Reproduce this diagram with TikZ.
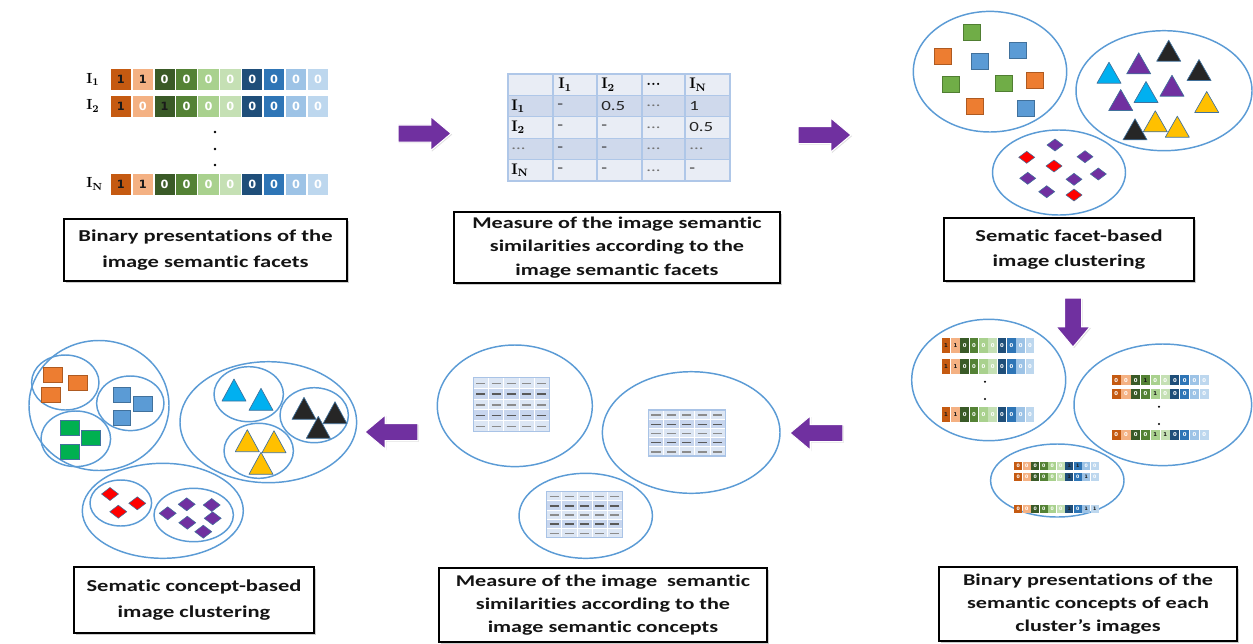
\documentclass[tikz,border=0pt]{standalone}
\usepackage{fontspec}
\usetikzlibrary{shapes.arrows,shadows}
\newfontfamily\boxfont[FakeStretch=1.35, Ligatures=NoCommon]{Carlito}
\newfontfamily\digitfont{DejaVu Sans}

% facet colours of the binary strips
\definecolor{c1}{HTML}{C55A11}
\definecolor{c2}{HTML}{F4B183}
\definecolor{c3}{HTML}{3A5A27}
\definecolor{c4}{HTML}{548235}
\definecolor{c5}{HTML}{A9D18E}
\definecolor{c6}{HTML}{C5E0B4}
\definecolor{c7}{HTML}{1F4E79}
\definecolor{c8}{HTML}{2E75B6}
\definecolor{c9}{HTML}{9DC3E6}
\definecolor{c10}{HTML}{BDD7EE}
\definecolor{bitone}{HTML}{1A1A1A}
% clusters and shapes
\definecolor{clusline}{HTML}{5B9BD5}
\definecolor{sqorange}{HTML}{ED7D31}
\definecolor{sqorangeD}{HTML}{AE5A21}
\definecolor{sqblue}{HTML}{5B9BD5}
\definecolor{sqblueD}{HTML}{41719C}
\definecolor{sqgreen}{HTML}{70AD47}
\definecolor{sqgreenD}{HTML}{507E32}
\definecolor{sqgreenB}{HTML}{00B050}
\definecolor{tcyan}{HTML}{00B0F0}
\definecolor{tpurple}{HTML}{7030A0}
\definecolor{tblack}{HTML}{262626}
\definecolor{tyellow}{HTML}{FFC000}
\definecolor{dred}{HTML}{FF0000}
\definecolor{shapeline}{HTML}{41719C}
% tables
\definecolor{tlight}{HTML}{E9EDF5}
\definecolor{tdark}{HTML}{CFD9EC}
\definecolor{tline}{HTML}{AFC7E8}
\definecolor{mtlight}{HTML}{DCE6F4}
\definecolor{mtdark}{HTML}{C8D6EE}
\definecolor{mtline}{HTML}{A9C3E6}
% arrows and text
\definecolor{arrowpurple}{HTML}{7030A0}
\definecolor{boxtext}{HTML}{141414}

% one strip of ten facet cells: x-left, y-middle, cell width, cell height, digits, font size, name
\newcommand\bitrow[7]{%
  \foreach \b [count=\i] in {#5} {%
    \pgfmathsetmacro\xa{#1+(\i-1)*#3}%
    \pgfmathsetmacro\xb{\xa+0.93*#3}%
    \ifnum\b=1 \def\dcol{bitone}\else\def\dcol{white}\fi
    \fill[c\i] (\xa,#2-#4/2) rectangle (\xb,#2+#4/2);
    \node[inner sep=0pt, text=\dcol, font=\digitfont\bfseries#6] (#7-\i) at ({(\xa+\xb)/2},#2) {\b};
  }%
}
% small similarity matrix: x-left, y-top, width, height
\newcommand\minitab[4]{%
  \pgfmathsetmacro\mcw{#3/5}%
  \pgfmathsetmacro\mrh{#4/5}%
  \foreach \r in {0,...,4} {%
    \pgfmathsetmacro\ya{#2+\r*\mrh}%
    \ifodd\r \def\rc{mtdark}\def\dc{black!65}\else\def\rc{mtlight}\def\dc{black!45}\fi
    \foreach \c in {0,...,4} {%
      \pgfmathsetmacro\xa{#1+\c*\mcw}%
      \filldraw[fill=\rc, draw=white, line width=0.6pt] (\xa,\ya) rectangle ++(\mcw,\mrh);
      \draw[\dc, line width=1pt] (\xa+0.2*\mcw,\ya+0.55*\mrh) -- ++(0.6*\mcw,0);
    }%
  }%
  \draw[mtline, line width=0.8pt] (#1,#2) rectangle ++(#3,#4);
}
% shapes inside the clusters: style, x, y, width, height
\newcommand\sqr[5]{\filldraw[#1, line width=0.6pt, shift={(#2,#3)}] (-#4/2,-#5/2) rectangle (#4/2,#5/2);}
\newcommand\tri[5]{\filldraw[fill=#1, draw=shapeline, line width=0.5pt, line join=round, shift={(#2,#3)}] (-#4/2,#5/2) -- (#4/2,#5/2) -- (0,-#5/2) -- cycle;}
\newcommand\dia[5]{\filldraw[fill=#1, draw=shapeline, line width=0.4pt, shift={(#2,#3)}] (-#4/2,0) -- (0,-#5/2) -- (#4/2,0) -- (0,#5/2) -- cycle;}
\newcommand\Ilab[1]{{\rmfamily\bfseries I\textsubscript{#1}}}

\begin{document}
\begin{tikzpicture}[x=0.75pt,y=-0.75pt,
  clus/.style={draw=clusline, line width=1.1pt},
  sqO/.style={fill=sqorange, draw=sqorangeD},
  sqB/.style={fill=sqblue, draw=sqblueD},
  sqG/.style={fill=sqgreen, draw=sqgreenD},
  sqGB/.style={fill=sqgreenB, draw=sqblueD},
  tbox/.style={draw=black, line width=1.8pt, fill=white, align=center, inner sep=2pt,
    text=boxtext, font=\boxfont\bfseries\fontsize{12.3}{17.5}\selectfont,
    drop shadow={shadow xshift=1.3pt, shadow yshift=-1.3pt, fill=black!40}},
  twoline/.style={font=\boxfont\bfseries\fontsize{12.5}{19}\selectfont},
  parrow/.style={single arrow, single arrow head extend=6.4pt, minimum height=39.75pt,
    single arrow tip angle=80,
    inner xsep=0pt, inner ysep=6pt, fill=arrowpurple, draw=white, line width=0.8pt,
    drop shadow={shadow xshift=0.8pt, shadow yshift=-0.8pt, fill=black!25}},
  tcell/.style={anchor=west, inner sep=0pt, font=\boxfont\fontsize{10.5}{10.5}\selectfont, text=black!85},
  tlab/.style={anchor=west, inner sep=0pt, font=\fontsize{11.5}{11.5}\selectfont},
  lab/.style={anchor=west, inner sep=0pt, font=\fontsize{11}{11}\selectfont}]
\useasboundingbox (0,0) rectangle (1253,643);

% ---------- binary presentations of the image semantic facets ----------
\node[lab] (l1) at (86,79.5) {\Ilab{1}};
\node[lab] (l2) at (86,106) {\Ilab{2}};
\node[lab] (lN) at (86,184) {\Ilab{N}};
\bitrow{110.7}{79.5}{21.9}{21}{1,1,0,0,0,0,0,0,0,0}{\fontsize{8.5}{8.5}\selectfont}{ra}
\bitrow{110.7}{106}{21.9}{21}{1,0,1,0,0,0,0,0,0,0}{\fontsize{8.5}{8.5}\selectfont}{rb}
\bitrow{110.7}{184}{21.9}{21}{1,1,0,0,0,0,0,0,0,0}{\fontsize{8.5}{8.5}\selectfont}{rc}
\foreach \yy in {132,149,165} \fill (215,\yy) circle [radius=1.3];

% ---------- similarity matrix ----------
\foreach \r/\fc in {0/tlight,1/tdark,2/tlight,3/tdark,4/tlight}
  \fill[\fc] (508,74+\r*21.4) rectangle (730,74+\r*21.4+21.4);
\foreach \xx in {553,597,642,685} \draw[tline, line width=0.8pt] (\xx,74) -- (\xx,181);
\foreach \r in {1,...,4} \draw[tline, line width=0.8pt] (508,74+\r*21.4) -- (730,74+\r*21.4);
\draw[tline, line width=1pt] (508,74) rectangle (730,181);
\node[tlab] (h1) at (558,84.7) {\Ilab{1}};
\node[tlab] (h2) at (601,84.7) {\Ilab{2}};
\node[tlab] (h3) at (646,84.7) {\bfseries...};
\node[tlab] (h4) at (689,84.7) {\Ilab{N}};
\node[tlab] (v1) at (511,106.1) {\Ilab{1}};
\node[tlab] (v2) at (511,127.5) {\Ilab{2}};
\node[tcell, text=black!55] (v3) at (511,148.9) {...};
\node[tlab] (v4) at (511,170.3) {\Ilab{N}};
\node[tcell] (m11) at (557,106.1) {-};
\node[tcell] (m12) at (601,106.1) {0.5};
\node[tcell, text=black!55] (m13) at (646,106.1) {...};
\node[tcell] (m14) at (689,106.1) {1};
\node[tcell] (m21) at (557,127.5) {-};
\node[tcell] (m22) at (601,127.5) {-};
\node[tcell, text=black!55] (m23) at (646,127.5) {...};
\node[tcell] (m24) at (689,127.5) {0.5};
\node[tcell] (m31) at (557,148.9) {-};
\node[tcell] (m32) at (601,148.9) {-};
\node[tcell, text=black!55] (m33) at (646,148.9) {...};
\node[tcell, text=black!55] (m34) at (689,148.9) {...};
\node[tcell] (m41) at (557,170.3) {-};
\node[tcell] (m42) at (601,170.3) {-};
\node[tcell, text=black!55] (m43) at (646,170.3) {...};
\node[tcell] (m44) at (689,170.3) {-};

% ---------- facet-based clusters ----------
\draw[clus] (990,71.7) ellipse [x radius=76.7, y radius=60.3];
\draw[clus] (1164,90.7) ellipse [x radius=88, y radius=60];
\draw[clus] (1059,172.5) ellipse [x radius=66.5, y radius=42.5];
\sqr{sqG}{971.7}{32.7}{17}{16}
\sqr{sqO}{942.7}{56}{17}{16}
\sqr{sqB}{980}{61.3}{17}{16}
\sqr{sqB}{1018.3}{50}{17}{16}
\sqr{sqG}{950.7}{84.3}{17}{16}
\sqr{sqG}{1004.3}{83}{17}{16}
\sqr{sqO}{1034.7}{80.7}{17}{16}
\sqr{sqO}{975.3}{106.7}{17}{16}
\sqr{sqB}{1026}{108.7}{17}{16}
\tri{tcyan}{1109}{72.7}{24}{21}
\tri{tpurple}{1138.7}{63.3}{24}{21}
\tri{tblack}{1168.7}{50.7}{24}{21}
\tri{tblack}{1199}{70}{24}{21}
\tri{tpurple}{1120.7}{100}{24}{21}
\tri{tcyan}{1146}{92}{24}{21}
\tri{tpurple}{1172}{85.7}{24}{21}
\tri{tyellow}{1206.7}{102}{24}{21}
\tri{tblack}{1135}{129.3}{24}{21}
\tri{tyellow}{1155.3}{121.3}{24}{21}
\tri{tyellow}{1177.3}{126.7}{24}{21}
\dia{tpurple}{1055}{145}{16}{12}
\dia{dred}{1026.7}{157.3}{16}{12}
\dia{tpurple}{1085}{156.7}{16}{12}
\dia{dred}{1054}{166}{16}{12}
\dia{tpurple}{1027.7}{178.3}{16}{12}
\dia{tpurple}{1074}{179.3}{16}{12}
\dia{tpurple}{1098.3}{174}{16}{12}
\dia{tpurple}{1046.7}{191.7}{16}{12}
\dia{dred}{1074}{195}{16}{12}

% ---------- binary presentations per cluster ----------
\draw[clus] (988.7,380) ellipse [x radius=77, y radius=60.7];
\draw[clus] (1162.8,404.8) ellipse [x radius=88.8, y radius=60.8];
\draw[clus] (1057.3,480.5) ellipse [x radius=66.7, y radius=36.5];
\bitrow{941.7}{345.5}{9.33}{15}{1,1,0,0,0,0,0,0,0,0}{\fontsize{4}{4}\selectfont}{pa}
\bitrow{941.7}{366.5}{9.33}{15}{1,1,0,0,0,0,0,0,0,0}{\fontsize{4}{4}\selectfont}{pb}
\bitrow{941.7}{414.5}{9.33}{15}{1,1,0,0,0,0,0,0,0,0}{\fontsize{4}{4}\selectfont}{pc}
\foreach \yy in {381.7,399} \fill (985,\yy) circle [radius=1.1];
\bitrow{1111.7}{380.3}{9.77}{10}{0,0,0,1,0,0,0,0,0,0}{\fontsize{4}{4}\selectfont}{qa}
\bitrow{1111.7}{393.8}{9.77}{10}{0,0,0,0,1,0,0,0,0,0}{\fontsize{4}{4}\selectfont}{qb}
\bitrow{1111.7}{435}{9.77}{10}{0,0,0,0,1,1,0,0,0,0}{\fontsize{4}{4}\selectfont}{qc}
\foreach \yy in {406.7,424} \fill (1159,\yy) circle [radius=1.1];
\bitrow{1014.3}{466}{8.5}{8}{0,0,0,0,0,0,1,1,0,0}{\fontsize{3.5}{3.5}\selectfont}{sa}
\bitrow{1014.3}{476.5}{8.5}{8}{0,0,0,0,0,0,1,0,1,0}{\fontsize{3.5}{3.5}\selectfont}{sb}
\bitrow{1014.3}{509}{8.5}{8}{0,0,0,0,0,0,1,0,1,1}{\fontsize{3.5}{3.5}\selectfont}{sc}

% ---------- concept similarity matrices ----------
\draw[clus] (514.8,405.8) ellipse [x radius=77.5, y radius=60.8];
\draw[clus] (691.2,432.5) ellipse [x radius=88.8, y radius=60.8];
\draw[clus] (585.7,515.8) ellipse [x radius=66.7, y radius=42.5];
\minitab{473.3}{377.3}{76}{54}
\minitab{648.3}{410}{77}{46}
\minitab{546.7}{491.7}{75.6}{45.6}

% ---------- concept-based clusters ----------
\draw[clus] (99,405.5) ellipse [x radius=70, y radius=65];
\draw[clus] (65.3,382.5) ellipse [x radius=33.7, y radius=27.5];
\draw[clus] (130.3,403.3) ellipse [x radius=33.7, y radius=27.3];
\draw[clus] (75.8,438.8) ellipse [x radius=34.8, y radius=27.8];
\sqr{sqO}{53.3}{375}{19}{15}
\sqr{sqO}{78.3}{383.3}{19}{15}
\sqr{sqO}{50.7}{395}{19}{15}
\sqr{sqB}{121.7}{395}{17}{15}
\sqr{sqB}{143.3}{404.3}{19}{15}
\sqr{sqB}{121.7}{417.7}{17}{15}
\sqr{sqGB}{70}{428.3}{19}{15}
\sqr{sqGB}{91}{437.7}{19}{15}
\sqr{sqGB}{70}{451.7}{19}{15}

\draw[clus] (268.3,422.2) ellipse [x radius=88.3, y radius=60.5];
\draw[clus] (248.7,394.2) ellipse [x radius=34.7, y radius=27.5];
\draw[clus] (314.2,415.2) ellipse [x radius=34.2, y radius=27.5];
\draw[clus] (258.7,450.8) ellipse [x radius=34.7, y radius=27.5];
\tri{tcyan}{234}{390}{24}{22}
\tri{tcyan}{261}{399.3}{24}{22}
\tri{tblack}{304}{408.3}{24}{22}
\tri{tblack}{335}{412.7}{24}{22}
\tri{tblack}{318.3}{427.3}{24}{22}
\tri{tyellow}{247.3}{440.7}{24}{22}
\tri{tyellow}{274}{441.7}{24}{22}
\tri{tyellow}{261}{463.3}{24}{22}

\draw[clus] (162.8,510.8) ellipse [x radius=80.5, y radius=47.5];
\draw[clus] (120.8,503) ellipse [x radius=30.8, y radius=23];
\draw[clus] (193.7,515) ellipse [x radius=39.7, y radius=26.7];
\dia{dred}{110}{494}{17}{13}
\dia{dred}{137.3}{503.3}{17}{13}
\dia{dred}{118.3}{511.7}{17}{13}
\dia{tpurple}{186.7}{504.3}{17}{13}
\dia{tpurple}{211.7}{505}{17}{13}
\dia{tpurple}{167.7}{513.3}{17}{13}
\dia{tpurple}{212.7}{518.3}{17}{13}
\dia{tpurple}{187.3}{522.7}{17}{13}
\dia{tpurple}{203.3}{531.7}{17}{13}

% ---------- step arrows ----------
\node[parrow] (a1) at (419.5,133.5) {};
\node[parrow] (a2) at (819.5,135) {};
\node[parrow, rotate=-90, minimum height=36.75pt] (a3) at (1073,317.5) {};
\node[parrow, rotate=180] (a4) at (821.5,433) {};
\node[parrow, rotate=180] (a5) at (396.5,432) {};

% ---------- captions ----------
\node[tbox, twoline, minimum width=212.25pt, minimum height=46.5pt] (t1) at (205.5,250)
  {Binary presentations of the\\image semantic facets};
\node[tbox, minimum width=244.5pt, minimum height=53.25pt] (t2) at (617,247.5)
  {Measure of the image semantic\\similarities according to the\\image semantic facets};
\node[tbox, twoline, minimum width=187.5pt, minimum height=47.25pt] (t3) at (1069,249.5)
  {Sematic facet-based\\image clustering};
\node[tbox, minimum width=223.5pt, minimum height=55.5pt] (t4) at (1088,604)
  {Binary presentations of the\\semantic concepts of each\\cluster’s images};
\node[tbox, twoline, minimum width=180pt, minimum height=49.5pt] (t5) at (194,600)
  {Sematic concept-based\\image clustering};
\node[tbox, minimum width=246pt, minimum height=55.5pt] (t6) at (603,605)
  {Measure of the image~~semantic\\similarities according to the\\image semantic concepts};
\end{tikzpicture}
\end{document}
